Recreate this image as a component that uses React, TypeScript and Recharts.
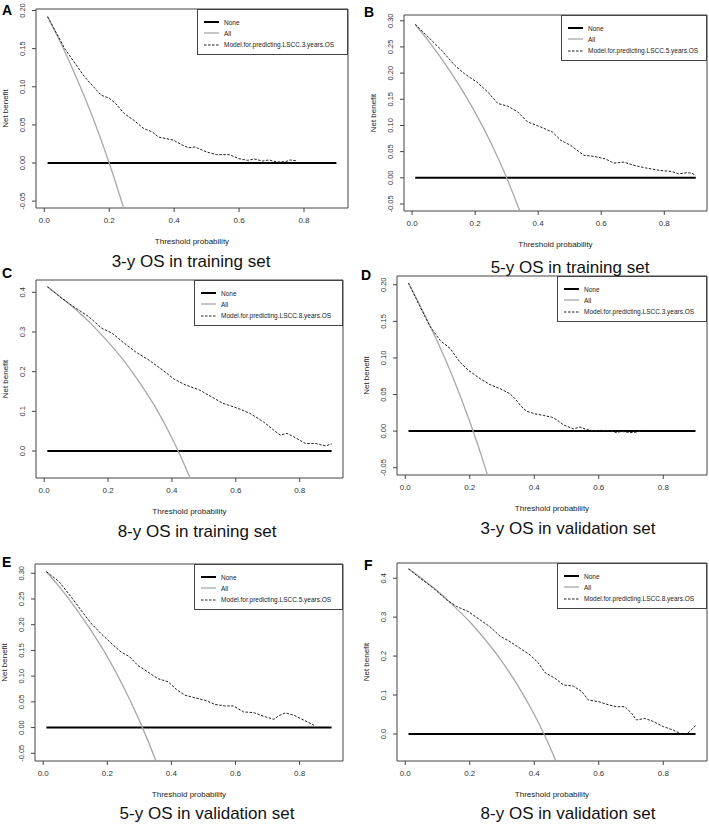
import React from "react";
import { LineChart, Line, XAxis, YAxis, ReferenceArea, Legend } from "recharts";

const FONT = "Arial, 'Liberation Sans', Helvetica, sans-serif";

// "All" curves (treat everyone)
const allThresholds = [0.01, 0.05, 0.1, 0.15, 0.2, 0.25, 0.3, 0.35, 0.4, 0.45, 0.5];
const allA = [0.192, 0.158, 0.111, 0.059, 0.0, -0.067, -0.143, -0.231, -0.333, -0.455, -0.6];
const allB = [0.293, 0.263, 0.222, 0.176, 0.125, 0.067, 0.0, -0.077, -0.167, -0.273, -0.4];
const allC = [0.414, 0.389, 0.356, 0.318, 0.275, 0.227, 0.171, 0.108, 0.033, -0.055, -0.16];
const allD = [0.202, 0.168, 0.122, 0.071, 0.013, -0.053, -0.129, -0.215, -0.317, -0.436, -0.58];
const allE = [0.303, 0.274, 0.233, 0.188, 0.138, 0.08, 0.014, -0.062, -0.15, -0.255, -0.38];
const allF = [0.424, 0.4, 0.367, 0.329, 0.288, 0.24, 0.186, 0.123, 0.05, -0.036, -0.14];

// "None" (treat nobody)
const noneThresholds = [0.01, 0.9];
const noneBenefit = [0, 0];

// nomogram model curves
const modelA_x = [0.01, 0.063, 0.124, 0.175, 0.2, 0.22, 0.246, 0.276, 0.307, 0.332, 0.352, 0.398, 0.423, 0.444, 0.464, 0.5, 0.53, 0.57, 0.6, 0.626, 0.647, 0.672, 0.692, 0.718, 0.743, 0.758, 0.775];
const modelA_y = [0.192, 0.15, 0.113, 0.089, 0.085, 0.078, 0.065, 0.056, 0.045, 0.041, 0.034, 0.03, 0.024, 0.02, 0.021, 0.0145, 0.011, 0.011, 0.0057, 0.0035, 0.0053, 0.0026, 0.004, 0.0013, 0.0018, 0.004, 0.003];

const modelB_x = [0.01, 0.061, 0.093, 0.135, 0.166, 0.205, 0.24, 0.272, 0.303, 0.335, 0.366, 0.408, 0.445, 0.472, 0.503, 0.545, 0.577, 0.614, 0.64, 0.672, 0.703, 0.74, 0.787, 0.824, 0.845, 0.872, 0.887, 0.9];
const modelB_y = [0.293, 0.263, 0.244, 0.215, 0.199, 0.183, 0.164, 0.142, 0.137, 0.126, 0.107, 0.097, 0.0875, 0.0715, 0.062, 0.043, 0.041, 0.036, 0.028, 0.03, 0.024, 0.019, 0.014, 0.012, 0.0077, 0.0096, 0.009, 0.0045];

const modelC_x = [0.01, 0.055, 0.097, 0.139, 0.181, 0.213, 0.244, 0.286, 0.328, 0.371, 0.407, 0.444, 0.486, 0.523, 0.56, 0.602, 0.644, 0.686, 0.718, 0.739, 0.76, 0.781, 0.818, 0.849, 0.881, 0.9];
const modelC_y = [0.414, 0.385, 0.361, 0.339, 0.309, 0.297, 0.276, 0.25, 0.229, 0.204, 0.181, 0.166, 0.154, 0.137, 0.12, 0.109, 0.095, 0.074, 0.053, 0.04, 0.0445, 0.036, 0.019, 0.019, 0.013, 0.018];

const modelD_x = [0.01, 0.046, 0.077, 0.108, 0.139, 0.17, 0.196, 0.232, 0.263, 0.294, 0.325, 0.341, 0.361, 0.377, 0.402, 0.428, 0.454, 0.47, 0.49, 0.521, 0.542, 0.562, 0.583, 0.604, 0.635, 0.655, 0.671, 0.697, 0.717, 0.733];
const modelD_y = [0.2025, 0.17, 0.143, 0.124, 0.113, 0.094, 0.083, 0.0717, 0.0635, 0.058, 0.051, 0.044, 0.033, 0.027, 0.0237, 0.0215, 0.019, 0.0155, 0.0087, 0.003, 0.0055, 0.0023, 0.0, 0.001, 0.0005, -0.002, -0.0005, -0.002, -0.0014, 0.0005];

const modelE_x = [0.01, 0.049, 0.086, 0.117, 0.149, 0.18, 0.212, 0.243, 0.269, 0.295, 0.327, 0.358, 0.39, 0.416, 0.442, 0.473, 0.505, 0.536, 0.567, 0.594, 0.625, 0.657, 0.693, 0.72, 0.735, 0.756, 0.782, 0.814, 0.845];
const modelE_y = [0.303, 0.284, 0.255, 0.229, 0.203, 0.183, 0.164, 0.147, 0.138, 0.121, 0.108, 0.095, 0.089, 0.074, 0.063, 0.058, 0.053, 0.045, 0.042, 0.042, 0.0305, 0.029, 0.021, 0.016, 0.023, 0.0286, 0.024, 0.0143, 0.0045];

const modelF_x = [0.01, 0.046, 0.088, 0.129, 0.16, 0.196, 0.232, 0.263, 0.294, 0.325, 0.356, 0.387, 0.413, 0.433, 0.464, 0.49, 0.521, 0.547, 0.568, 0.599, 0.63, 0.655, 0.681, 0.702, 0.717, 0.743, 0.769, 0.8, 0.831, 0.857, 0.877, 0.9];
const modelF_y = [0.424, 0.4, 0.374, 0.344, 0.327, 0.314, 0.293, 0.275, 0.251, 0.237, 0.22, 0.203, 0.182, 0.158, 0.143, 0.126, 0.123, 0.109, 0.087, 0.083, 0.075, 0.07, 0.07, 0.053, 0.036, 0.04, 0.032, 0.019, 0.01, -0.001, 0.0026, 0.021];

// ticks and labels
const xTicks = [0, 0.2, 0.4, 0.6, 0.8];
const yTicks020 = [-0.05, 0, 0.05, 0.1, 0.15, 0.2];
const yTicks030 = [-0.05, 0, 0.05, 0.1, 0.15, 0.2, 0.25, 0.3];
const yTicks04 = [0, 0.1, 0.2, 0.3, 0.4];
const letters = ["A", "B", "C", "D", "E", "F"];
const titles = [
  "3-y OS in training set",
  "5-y OS in training set",
  "8-y OS in training set",
  "3-y OS in validation set",
  "5-y OS in validation set",
  "8-y OS in validation set",
];
const modelNames = [
  "Model.for.predicting.LSCC.3.years.OS",
  "Model.for.predicting.LSCC.5.years.OS",
  "Model.for.predicting.LSCC.8.years.OS",
  "Model.for.predicting.LSCC.3.years.OS",
  "Model.for.predicting.LSCC.5.years.OS",
  "Model.for.predicting.LSCC.8.years.OS",
];

const toPoints = (xs: number[], ys: number[]) => xs.map((x, i) => ({ x, y: ys[i] }));

const X_DOMAIN: [number, number] = [-0.0256, 0.9356];
const YW = 36;
const MT = 12;
const MR = 2;
const XH = 44;

// layout: plot box [x0, y0, x1, y1] on the page, letter and title spots
const panels = [
  { box: [36, 9, 348, 208], yDomain: [-0.059, 0.202], yTicks: yTicks020, digits: 2, all: allA, mx: modelA_x, my: modelA_y, legendW: 151, letter: [2, 3], title: [191, 253] },
  { box: [404, 15, 707, 211], yDomain: [-0.0634, 0.311], yTicks: yTicks030, digits: 2, all: allB, mx: modelB_x, my: modelB_y, legendW: 146, letter: [364, 5], title: [570, 259] },
  { box: [36, 280, 343, 478], yDomain: [-0.068, 0.431], yTicks: yTicks04, digits: 1, all: allC, mx: modelC_x, my: modelC_y, legendW: 149, letter: [2, 266], title: [197, 523] },
  { box: [397, 276, 707, 475], yDomain: [-0.06, 0.212], yTicks: yTicks020, digits: 2, all: allD, mx: modelD_x, my: modelD_y, legendW: 150, letter: [361, 268], title: [568, 520] },
  { box: [35, 564, 343, 761], yDomain: [-0.065, 0.318], yTicks: yTicks030, digits: 2, all: allE, mx: modelE_x, my: modelE_y, legendW: 149, letter: [2, 555], title: [207, 805] },
  { box: [397, 563, 707, 761], yDomain: [-0.0694, 0.439], yTicks: yTicks04, digits: 1, all: allF, mx: modelF_x, my: modelF_y, legendW: 150, letter: [364, 558], title: [568, 805] },
];

function YTick(props: any) {
  const { x, y, payload, digits } = props;
  return (
    <text x={x} y={y} transform={`rotate(-90, ${x}, ${y})`} textAnchor="middle" fontSize={7.5} fill="#333" fontFamily={FONT}>
      {Number(payload.value).toFixed(digits)}
    </text>
  );
}

function XTitle(props: any) {
  const vb = props.viewBox;
  return (
    <text x={vb.x + vb.width / 2} y={vb.y + 36} textAnchor="middle" fontSize={8} fill="#222" fontFamily={FONT}>
      Threshold probability
    </text>
  );
}

function YTitle(props: any) {
  const vb = props.viewBox;
  const x = vb.x + vb.width - 28;
  const y = vb.y + vb.height / 2;
  return (
    <text x={x} y={y} transform={`rotate(-90, ${x}, ${y})`} textAnchor="middle" fontSize={8} fill="#222" fontFamily={FONT}>
      Net benefit
    </text>
  );
}

// legend keys, in the order R draws them
const legendKeys = [
  { stroke: "#000", width: 2, dash: undefined as string | undefined },
  { stroke: "#a8a8a8", width: 1.3, dash: undefined as string | undefined },
  { stroke: "#222", width: 1, dash: "2.5 1.5" },
];

function LegendBox(props: any) {
  const { width, names } = props;
  return (
    <div style={{ width, height: 46, boxSizing: "border-box", border: "1px solid #444", position: "relative", fontFamily: FONT, fontSize: 6.5, color: "#222" }}>
      {names.map((name: string, i: number) => {
        const s = legendKeys[i];
        const top = 12 + i * 11.3;
        return (
          <div key={i} style={{ position: "absolute", left: 6, top: top - 5, height: 10, display: "flex", alignItems: "center", whiteSpace: "nowrap" }}>
            <svg width={16} height={10} style={{ display: "block" }}>
              <line x1={0} y1={5} x2={15} y2={5} stroke={s.stroke} strokeWidth={s.width} strokeDasharray={s.dash} />
            </svg>
            <span style={{ marginLeft: 4 }}>{name}</span>
          </div>
        );
      })}
    </div>
  );
}

function Panel({ p, idx }: { p: any; idx: number }) {
  const [x0, y0, x1, y1] = p.box;
  const w = x1 - x0 + YW + MR;
  const h = y1 - y0 + MT + XH;
  const none = toPoints(noneThresholds, noneBenefit);
  const all = toPoints(allThresholds, p.all);
  const model = toPoints(p.mx, p.my);
  return (
    <div style={{ position: "absolute", left: x0 - YW, top: y0 - MT, zIndex: 1 }}>
      <LineChart width={w} height={h} margin={{ top: MT, right: MR, left: 0, bottom: 0 }}>
        <XAxis
          type="number"
          dataKey="x"
          domain={X_DOMAIN}
          ticks={xTicks}
          interval={0}
          allowDataOverflow
          axisLine={false}
          tickLine={{ stroke: "#444" }}
          tickSize={4}
          tickMargin={5}
          height={XH}
          tick={{ fontSize: 8, fill: "#333", fontFamily: FONT }}
          tickFormatter={(v: number) => v.toFixed(1)}
          label={<XTitle />}
        />
        <YAxis
          type="number"
          domain={p.yDomain}
          ticks={p.yTicks}
          interval={0}
          allowDataOverflow
          axisLine={false}
          tickLine={{ stroke: "#444" }}
          tickSize={4}
          tickMargin={7}
          width={YW}
          tick={<YTick digits={p.digits} />}
          label={<YTitle />}
        />
        <ReferenceArea x1={X_DOMAIN[0]} x2={X_DOMAIN[1]} y1={p.yDomain[0]} y2={p.yDomain[1]} fill="none" fillOpacity={0} stroke="#444" strokeWidth={1} ifOverflow="visible" />
        <Line data={none} dataKey="y" name="None" type="linear" stroke="#000" strokeWidth={2} dot={false} activeDot={false} isAnimationActive={false} />
        <Line data={all} dataKey="y" name="All" type="monotone" stroke="#a8a8a8" strokeWidth={1.3} dot={false} activeDot={false} isAnimationActive={false} />
        <Line data={model} dataKey="y" name={modelNames[idx]} type="linear" stroke="#222" strokeWidth={1} strokeDasharray="2.5 1.5" dot={false} activeDot={false} isAnimationActive={false} />
        <Legend
          layout="vertical"
          align="center"
          verticalAlign="middle"
          wrapperStyle={{ left: YW + (x1 - x0) - p.legendW, top: MT, width: p.legendW, height: 46 }}
          content={<LegendBox width={p.legendW} names={["None", "All", modelNames[idx]]} />}
        />
      </LineChart>
    </div>
  );
}

export default function App() {
  return (
    <div style={{ position: "absolute", left: 0, top: 0, width: 709, height: 824, background: "#fff", overflow: "hidden" }}>
      {panels.map((p, i) => (
        <Panel key={i} p={p} idx={i} />
      ))}
      {panels.map((p, i) => (
        <div key={"l" + i} style={{ position: "absolute", zIndex: 50, left: p.letter[0], top: p.letter[1], fontFamily: FONT, fontWeight: "bold", fontSize: 14, lineHeight: "14px", color: "#000" }}>
          {letters[i]}
        </div>
      ))}
      {panels.map((p, i) => (
        <div key={"t" + i} style={{ position: "absolute", zIndex: 50, left: p.title[0] - 150, top: p.title[1], width: 300, textAlign: "center", fontFamily: FONT, fontSize: 17, lineHeight: "17px", color: "#111" }}>
          {titles[i]}
        </div>
      ))}
    </div>
  );
}
